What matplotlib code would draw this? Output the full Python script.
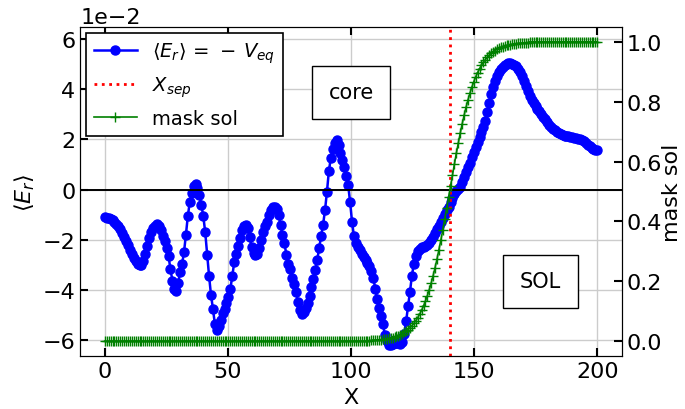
import numpy as np
import matplotlib
matplotlib.use("Agg")
import matplotlib.pyplot as plt

# radial coordinate: 256 grid points from 0 to 200
x = np.linspace(0, 200, 256)

# <E_r> profile on that grid, in units of 1e-2
er_centi = [
    -1.10, -1.12, -1.13, -1.17, -1.21, -1.27, -1.35, -1.45, -1.57, -1.71,
    -1.87, -2.04, -2.21, -2.40, -2.58, -2.73, -2.86, -2.95, -3.00, -2.99,
    -2.85, -2.58, -2.25, -1.94, -1.70, -1.54, -1.43, -1.38, -1.44, -1.62,
    -1.83, -2.05, -2.32, -2.65, -3.17, -3.62, -3.95, -4.05, -3.70, -3.30,
    -2.97, -2.50, -1.80, -1.05, -0.50, -0.12, 0.13, 0.22, 0.08, -0.22,
    -0.62, -1.05, -1.70, -2.60, -3.45, -4.20, -4.75, -5.35, -5.60, -5.45,
    -5.18, -4.93, -4.75, -4.53, -4.27, -3.96, -3.45, -2.90, -2.58, -2.25,
    -1.94, -1.62, -1.44, -1.42, -1.52, -1.90, -2.28, -2.52, -2.62, -2.56,
    -2.33, -2.00, -1.70, -1.43, -1.27, -1.02, -0.80, -0.69, -0.68, -0.76,
    -1.00, -1.40, -1.82, -2.12, -2.60, -2.95, -3.18, -3.53, -3.76, -4.08,
    -4.46, -4.80, -4.95, -4.88, -4.71, -4.50, -4.24, -3.89, -3.57, -3.20,
    -2.79, -2.31, -1.85, -1.40, -0.83, -0.10, 0.73, 1.25, 1.62, 1.86,
    1.97, 1.76, 1.46, 1.19, 0.89, 0.53, 0.18, -0.50, -1.28, -1.86,
    -2.11, -2.28, -2.42, -2.55, -2.67, -2.80, -2.91, -3.04, -3.23, -3.51,
    -3.94, -4.35, -4.70, -5.02, -5.37, -5.77, -6.03, -6.17, -6.20, -6.16,
    -6.12, -6.10, -6.11, -6.15, -6.08, -5.74, -5.24, -4.65, -4.06, -3.43,
    -2.95, -2.63, -2.44, -2.35, -2.30, -2.27, -2.24, -2.22, -2.13, -2.00,
    -1.87, -1.73, -1.57, -1.43, -1.28, -1.13, -0.97, -0.83, -0.68, -0.51,
    -0.34, -0.18, -0.06, 0.01, 0.12, 0.30, 0.49, 0.71, 0.91, 1.07,
    1.31, 1.50, 1.70, 1.89, 2.09, 2.29, 2.48, 2.75, 3.08, 3.44,
    3.79, 4.08, 4.33, 4.54, 4.70, 4.82, 4.90, 4.95, 4.99, 5.03,
    5.04, 5.02, 4.98, 4.91, 4.82, 4.67, 4.51, 4.33, 4.13, 3.91,
    3.73, 3.56, 3.43, 3.31, 3.21, 3.12, 3.02, 2.91, 2.81, 2.69,
    2.56, 2.49, 2.42, 2.36, 2.30, 2.25, 2.21, 2.17, 2.15, 2.13,
    2.12, 2.10, 2.08, 2.07, 2.05, 2.03, 2.00, 1.96, 1.92, 1.86,
    1.79, 1.72, 1.66, 1.62, 1.58, 1.56,
]
er = [v * 1e-2 for v in er_centi]

# SOL mask on the same grid: 0 in the core, 1 in the SOL
mask_transition = [
    0.0024, 0.0027, 0.0032, 0.0037, 0.0043, 0.0050, 0.0057, 0.0067, 0.0077, 0.0090,
    0.0104, 0.0120, 0.0140, 0.0162, 0.0187, 0.0217, 0.0251, 0.0290, 0.0336, 0.0388,
    0.0447, 0.0516, 0.0593, 0.0682, 0.0784, 0.0898, 0.1029, 0.1174, 0.1339, 0.1521,
    0.1722, 0.1948, 0.2191, 0.2460, 0.2747, 0.3055, 0.3381, 0.3719, 0.4078, 0.4440,
    0.4815, 0.5185, 0.5560, 0.5922, 0.6281, 0.6619, 0.6945, 0.7253, 0.7540, 0.7809,
    0.8052, 0.8278, 0.8479, 0.8661, 0.8826, 0.8971, 0.9102, 0.9216, 0.9318, 0.9407,
    0.9484, 0.9553, 0.9612, 0.9664, 0.9710, 0.9749, 0.9783, 0.9813, 0.9838, 0.9860,
    0.9880, 0.9896, 0.9910, 0.9923, 0.9933, 0.9943, 0.9950, 0.9957, 0.9963, 0.9968,
    0.9973, 0.9976,
]
mask_sol = [0.0] * 138 + mask_transition + [1.0] * 36

x_sep = 140

plt.rcParams["font.size"] = 16
plt.rcParams["font.family"] = ["DejaVu Sans"]

fig = plt.figure(figsize=(6.85, 4.10), dpi=100)
ax = fig.add_axes([0.117, 0.129, 0.791, 0.803])

l1, = ax.plot(x, er, "-o", color="blue", lw=1.8, ms=6.5,
              label=r"$\langle E_r \rangle\,=\,-\,V_{eq}$")
l2 = ax.axvline(x_sep, color="red", ls=":", lw=2, label=r"$X_{sep}$")
ax.axhline(0, color="black", lw=1.4)

ax.set_xlim(-10, 210)
ax.set_ylim(-0.0663, 0.0648)
ax.set_yticks(np.arange(-0.06, 0.061, 0.02))
ax.ticklabel_format(axis="y", style="sci", scilimits=(0, 0))
ax.grid(True, color="#cccccc", lw=1)
ax.set_axisbelow(True)
ax.tick_params(direction="in", top=True, length=6, width=1.5)
ax.set_xlabel("X", labelpad=4)
ax.set_ylabel(r"$\langle E_r \rangle$", labelpad=4)

ax2 = ax.twinx()
l3, = ax2.plot(x, mask_sol, "-+", color="green", lw=1.2, ms=7, mew=1,
               label="mask sol")
ax2.set_ylim(-0.05, 1.05)
ax2.set_yticks([0.0, 0.2, 0.4, 0.6, 0.8, 1.0])
ax2.tick_params(direction="in", length=6, width=1.5)
ax2.set_ylabel("mask sol", labelpad=0)

box = dict(boxstyle="square,pad=0.8", facecolor="white", edgecolor="black", lw=1)
ax.text(100, 0.0388, "core", ha="center", va="center", fontsize=15, bbox=box, zorder=5)
ax.text(177, -0.0365, "SOL", ha="center", va="center", fontsize=15, bbox=box, zorder=5)

leg = ax2.legend(handles=[l1, l2, l3], loc="upper left", fancybox=False,
                 edgecolor="black", framealpha=1, borderaxespad=0.3,
                 handlelength=2.2, fontsize=14)
leg.get_frame().set_linewidth(1.2)

fig.savefig("out.png", dpi=100)
